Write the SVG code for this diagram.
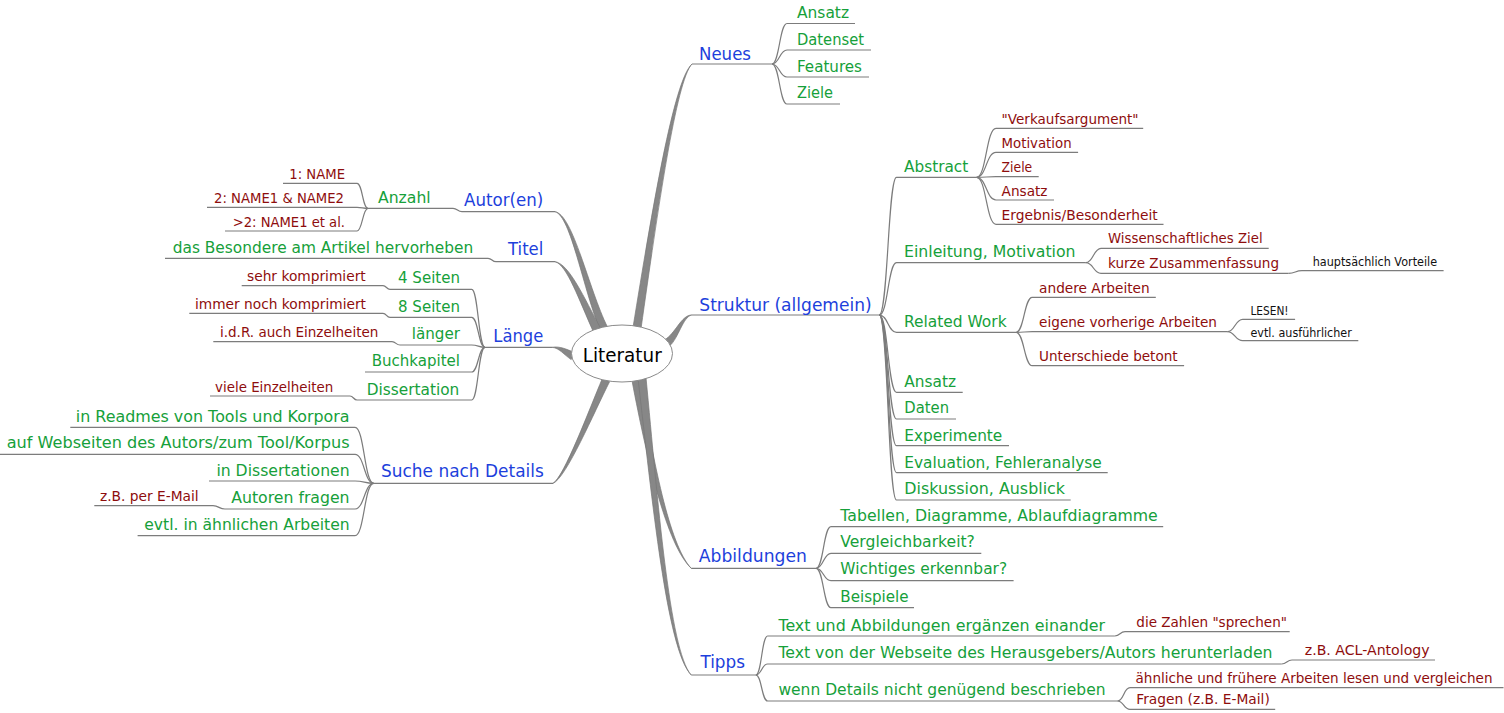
<svg xmlns="http://www.w3.org/2000/svg" width="1504" height="713" viewBox="0 0 1504 713">
<style>
text{font-family:"DejaVu Sans","Liberation Sans",sans-serif;}
.b{fill:#1d3fdc;font-size:17px;}
.g{fill:#16a03a;font-size:15.5px;}
.r{fill:#8e0d0d;font-size:14.8px;}
.k{fill:#111;font-size:12px;}
.c{fill:#000;font-size:19px;}
.ln{fill:none;stroke:#7c7c7c;stroke-width:1.2;}
.rb{fill:#878787;stroke:#777;stroke-width:0.7;stroke-linejoin:round;}
</style>
<rect width="1504" height="713" fill="#fff"/>
<g id="connectors">
<g id="ribbons">
<path class="rb" d="M641,328.6 C657.8,210.4 676.2,80.2 692,64 C673.8,79.8 652.2,209.6 633,327.4 Z"/>
<path class="rb" d="M669.3,346.3 C678.6,338.3 682.7,317 691.7,315 C681.3,315 675.4,333.7 664.7,339.7 Z"/>
<path class="rb" d="M640,379.3 C652.8,459.5 669.2,544.8 691.2,568.3 C666.8,545.2 647.2,460.5 632,380.7 Z"/>
<path class="rb" d="M646,377.6 C657.8,499.7 669.2,649.9 691.2,675 C666.8,650.1 652.2,500.3 638,378.4 Z"/>
<path class="rb" d="M607.6,327.3 C588.5,288.8 573.1,214.5 555,211.7 C570.9,215.5 583.5,291.2 600.4,330.7 Z"/>
<path class="rb" d="M600.6,328.2 C584.5,298.7 569.1,263.5 555,261.7 C566.9,264.5 579.5,301.3 593.4,331.8 Z"/>
<path class="rb" d="M574.8,352.4 C566.3,349.5 560.5,345.9 552,347.3 C559.5,348.1 563.7,354.5 571.2,359.6 Z"/>
<path class="rb" d="M609.6,381.7 C594.5,411.2 566.1,478.5 553,483.3 C563.9,477.5 589.5,408.8 602.4,378.3 Z"/>
</g>
<g id="lines" class="ln">
<path d="M692,64 H772"/>
<path d="M691.7,315 H879.3"/>
<path d="M691.2,568.3 H816.1"/>
<path d="M691.2,675 H755.8"/>
<path d="M555,211.7 H462"/>
<path d="M555,261.7 H496"/>
<path d="M552,347.3 H485"/>
<path d="M553,483.3 H373.7"/>
<path d="M772,64 C779.5,64 779.5,23.5 787,23.5 H855"/>
<path d="M772,64 C779.5,64 779.5,50 787,50 H871"/>
<path d="M772,64 C779.5,64 779.5,77 787,77 H869"/>
<path d="M772,64 C779.5,64 779.5,104 787,104 H840"/>
<path d="M879.3,315 C888,315 888,177.3 896.5,177.3 H976.7"/>
<path d="M879.3,315 C888,315 888,262.7 896.5,262.7 H1085.8"/>
<path d="M879.3,315 C888,315 888,332.3 896.5,332.3 H1016.1"/>
<path d="M879.3,315 C888,315 888,392.3 896.5,392.3 H962.7"/>
<path d="M879.3,315 C888,315 888,419 896.5,419 H956"/>
<path d="M879.3,315 C888,315 888,445.7 896.5,445.7 H1009"/>
<path d="M879.3,315 C888,315 888,472.7 896.5,472.7 H1107.7"/>
<path d="M879.3,315 C888,315 888,500 896.5,500 H1070.7"/>
<path d="M976.7,177.3 C986.3,177.3 986.3,128.3 996,128.3 H1143.2"/>
<path d="M976.7,177.3 C986.3,177.3 986.3,152.3 996,152.3 H1078.1"/>
<path d="M976.7,177.3 C986.3,177.3 986.3,176.7 996,176.7 H1038.7"/>
<path d="M976.7,177.3 C986.3,177.3 986.3,200 996,200 H1054"/>
<path d="M976.7,177.3 C986.3,177.3 986.3,224.3 996,224.3 H1163.5"/>
<path d="M1085.8,262.7 C1093.4,262.7 1093.4,248.3 1101,248.3 H1268.7"/>
<path d="M1085.8,262.7 C1093.4,262.7 1093.4,273.3 1101,273.3 H1288.6"/>
<path d="M1288.6,273.3 C1295.3,273.3 1295.3,270.7 1302,270.7 H1443.6"/>
<path d="M1016.1,332.3 C1024.2,332.3 1024.2,297.3 1032.2,297.3 H1155.8"/>
<path d="M1016.1,332.3 C1024.2,332.3 1024.2,331.7 1032.2,331.7 H1227.4"/>
<path d="M1016.1,332.3 C1024.2,332.3 1024.2,365.7 1032.2,365.7 H1184.1"/>
<path d="M1227.4,331.7 C1235,331.7 1235,319.3 1242.7,319.3 H1295.1"/>
<path d="M1227.4,331.7 C1235,331.7 1235,340.7 1242.7,340.7 H1358.3"/>
<path d="M816.1,568.3 C823.5,568.3 823.5,526.7 831,526.7 H1163.2"/>
<path d="M816.1,568.3 C823.5,568.3 823.5,553.3 831,553.3 H981.3"/>
<path d="M816.1,568.3 C823.5,568.3 823.5,580.7 831,580.7 H1013.6"/>
<path d="M816.1,568.3 C823.5,568.3 823.5,607.7 831,607.7 H914"/>
<path d="M755.8,675 C761.7,675 761.7,636 767.6,636 H1114.8"/>
<path d="M755.8,675 C761.7,675 761.7,664 767.6,664 H1281.6"/>
<path d="M755.8,675 C761.7,675 761.7,701 767.6,701 H1117.5"/>
<path d="M1114.8,636 C1120,636 1120,631.7 1125,631.7 H1289.7"/>
<path d="M1281.6,664 C1286.8,664 1286.8,660 1292,660 H1435"/>
<path d="M1117.5,701 C1123.7,701 1123.7,687.7 1130,687.7 H1503.5"/>
<path d="M1117.5,701 C1123.7,701 1123.7,709.3 1130,709.3 H1275.2"/>
<path d="M462,211.7 C457.5,211.7 457.5,208.3 453,208.3 H368"/>
<path d="M368,208.3 C362.5,208.3 362.5,183.3 357,183.3 H283"/>
<path d="M368,208.3 C362.5,208.3 362.5,207.3 357,207.3 H207"/>
<path d="M368,208.3 C362.5,208.3 362.5,231 357,231 H225"/>
<path d="M496,261.7 C492,261.7 492,258.3 488,258.3 H165"/>
<path d="M485,347.3 C478.3,347.3 478.3,289.3 471.7,289.3 H390"/>
<path d="M485,347.3 C478.3,347.3 478.3,317.3 471.7,317.3 H390"/>
<path d="M485,347.3 C478.3,347.3 478.3,345 471.7,345 H400"/>
<path d="M485,347.3 C478.3,347.3 478.3,372 471.7,372 H365"/>
<path d="M485,347.3 C478.3,347.3 478.3,400 471.7,400 H357"/>
<path d="M390,289.3 C386.5,289.3 386.5,285.7 383,285.7 H241.7"/>
<path d="M390,317.3 C386.5,317.3 386.5,313.3 383,313.3 H189.3"/>
<path d="M400,345 C396,345 396,341.7 392,341.7 H213.3"/>
<path d="M357,400 C353.5,400 353.5,396 350,396 H210"/>
<path d="M373.7,483.3 C364.3,483.3 364.3,427.3 355,427.3 H70.3"/>
<path d="M373.7,483.3 C364.3,483.3 364.3,454.3 355,454.3 H0"/>
<path d="M373.7,483.3 C364.3,483.3 364.3,481 355,481 H209"/>
<path d="M373.7,483.3 C364.3,483.3 364.3,509 355,509 H225"/>
<path d="M373.7,483.3 C364.3,483.3 364.3,535.7 355,535.7 H137.6"/>
<path d="M225,509 C219,509 219,505.7 213,505.7 H94.3"/>
</g>
</g>
<g id="n-literatur">
<ellipse cx="622" cy="353.5" rx="50.5" ry="28.5" fill="#fff" stroke="#8a8a8a" stroke-width="1"/>
<text class="c" x="582.7" y="361.7" textLength="79" lengthAdjust="spacingAndGlyphs">Literatur</text>
</g>
<g id="n-neues"><text class="b" x="699" y="59.5" textLength="52" lengthAdjust="spacingAndGlyphs">Neues</text></g>
<g id="n-neues-ansatz"><text class="g" x="797" y="17.5" textLength="52" lengthAdjust="spacingAndGlyphs">Ansatz</text></g>
<g id="n-datenset"><text class="g" x="797" y="44.5" textLength="67" lengthAdjust="spacingAndGlyphs">Datenset</text></g>
<g id="n-features"><text class="g" x="797" y="71.5" textLength="65" lengthAdjust="spacingAndGlyphs">Features</text></g>
<g id="n-neues-ziele"><text class="g" x="797" y="98" textLength="36" lengthAdjust="spacingAndGlyphs">Ziele</text></g>
<g id="n-struktur"><text class="b" x="699.3" y="310.7" textLength="172.4" lengthAdjust="spacingAndGlyphs">Struktur (allgemein)</text></g>
<g id="n-abstract"><text class="g" x="904" y="171.7" textLength="64.3" lengthAdjust="spacingAndGlyphs">Abstract</text></g>
<g id="n-verkauf"><text class="r" x="1001.6" y="124" textLength="137" lengthAdjust="spacingAndGlyphs">"Verkaufsargument"</text></g>
<g id="n-abs-motivation"><text class="r" x="1001.6" y="148.3" textLength="70" lengthAdjust="spacingAndGlyphs">Motivation</text></g>
<g id="n-abs-ziele"><text class="r" x="1001.6" y="171.7" textLength="30.6" lengthAdjust="spacingAndGlyphs">Ziele</text></g>
<g id="n-abs-ansatz"><text class="r" x="1001.6" y="195.7" textLength="45.9" lengthAdjust="spacingAndGlyphs">Ansatz</text></g>
<g id="n-ergebnis"><text class="r" x="1001.6" y="220" textLength="156.1" lengthAdjust="spacingAndGlyphs">Ergebnis/Besonderheit</text></g>
<g id="n-einleitung"><text class="g" x="904" y="257" textLength="171.5" lengthAdjust="spacingAndGlyphs">Einleitung, Motivation</text></g>
<g id="n-wiss"><text class="r" x="1108" y="243.3" textLength="154.6" lengthAdjust="spacingAndGlyphs">Wissenschaftliches Ziel</text></g>
<g id="n-kurze"><text class="r" x="1108" y="268.3" textLength="171" lengthAdjust="spacingAndGlyphs">kurze Zusammenfassung</text></g>
<g id="n-vorteile"><text class="k" x="1312.7" y="265.7" textLength="124.4" lengthAdjust="spacingAndGlyphs">hauptsächlich Vorteile</text></g>
<g id="n-related"><text class="g" x="904" y="326.7" textLength="102.6" lengthAdjust="spacingAndGlyphs">Related Work</text></g>
<g id="n-andere"><text class="r" x="1039.1" y="292.7" textLength="110.6" lengthAdjust="spacingAndGlyphs">andere Arbeiten</text></g>
<g id="n-eigene"><text class="r" x="1039.1" y="326.7" textLength="177.9" lengthAdjust="spacingAndGlyphs">eigene vorherige Arbeiten</text></g>
<g id="n-lesen"><text class="k" x="1250.4" y="315" textLength="38.2" lengthAdjust="spacingAndGlyphs">LESEN!</text></g>
<g id="n-ausf"><text class="k" x="1250.4" y="336.7" textLength="101.4" lengthAdjust="spacingAndGlyphs">evtl. ausführlicher</text></g>
<g id="n-untersch"><text class="r" x="1039.1" y="360.7" textLength="138.5" lengthAdjust="spacingAndGlyphs">Unterschiede betont</text></g>
<g id="n-str-ansatz"><text class="g" x="904.3" y="386.7" textLength="51.7" lengthAdjust="spacingAndGlyphs">Ansatz</text></g>
<g id="n-daten"><text class="g" x="904.3" y="413.3" textLength="44.7" lengthAdjust="spacingAndGlyphs">Daten</text></g>
<g id="n-experimente"><text class="g" x="904.3" y="440.7" textLength="98" lengthAdjust="spacingAndGlyphs">Experimente</text></g>
<g id="n-evaluation"><text class="g" x="904.3" y="467.7" textLength="197.4" lengthAdjust="spacingAndGlyphs">Evaluation, Fehleranalyse</text></g>
<g id="n-diskussion"><text class="g" x="904.3" y="494.3" textLength="160.7" lengthAdjust="spacingAndGlyphs">Diskussion, Ausblick</text></g>
<g id="n-abbildungen"><text class="b" x="698.8" y="561.7" textLength="108.1" lengthAdjust="spacingAndGlyphs">Abbildungen</text></g>
<g id="n-tabellen"><text class="g" x="840.3" y="520.7" textLength="317.5" lengthAdjust="spacingAndGlyphs">Tabellen, Diagramme, Ablaufdiagramme</text></g>
<g id="n-vergleich"><text class="g" x="840.3" y="547.3" textLength="134.6" lengthAdjust="spacingAndGlyphs">Vergleichbarkeit?</text></g>
<g id="n-wichtiges"><text class="g" x="840.3" y="574" textLength="166.8" lengthAdjust="spacingAndGlyphs">Wichtiges erkennbar?</text></g>
<g id="n-beispiele"><text class="g" x="840.3" y="601.7" textLength="68.3" lengthAdjust="spacingAndGlyphs">Beispiele</text></g>
<g id="n-tipps"><text class="b" x="700.4" y="668.3" textLength="44.6" lengthAdjust="spacingAndGlyphs">Tipps</text></g>
<g id="n-textund"><text class="g" x="778.4" y="630.7" textLength="326.7" lengthAdjust="spacingAndGlyphs">Text und Abbildungen ergänzen einander</text></g>
<g id="n-zahlen"><text class="r" x="1136.3" y="627.3" textLength="150.7" lengthAdjust="spacingAndGlyphs">die Zahlen "sprechen"</text></g>
<g id="n-textvon"><text class="g" x="778.4" y="658.3" textLength="494.1" lengthAdjust="spacingAndGlyphs">Text von der Webseite des Herausgebers/Autors herunterladen</text></g>
<g id="n-acl"><text class="r" x="1304.8" y="655" textLength="124.8" lengthAdjust="spacingAndGlyphs">z.B. ACL-Antology</text></g>
<g id="n-wenn"><text class="g" x="778.4" y="695" textLength="327.2" lengthAdjust="spacingAndGlyphs">wenn Details nicht genügend beschrieben</text></g>
<g id="n-aehnliche"><text class="r" x="1135.5" y="682.7" textLength="357" lengthAdjust="spacingAndGlyphs" style="font-size:13.4px">ähnliche und frühere Arbeiten lesen und vergleichen</text></g>
<g id="n-fragen"><text class="r" x="1136.3" y="704" textLength="133.5" lengthAdjust="spacingAndGlyphs">Fragen (z.B. E-Mail)</text></g>
<g id="n-autoren"><text class="b" x="464" y="205.5" textLength="79.3" lengthAdjust="spacingAndGlyphs">Autor(en)</text></g>
<g id="n-anzahl"><text class="g" x="378" y="202.7" textLength="52.7" lengthAdjust="spacingAndGlyphs">Anzahl</text></g>
<g id="n-name1"><text class="r" x="289.3" y="179" textLength="55.7" lengthAdjust="spacingAndGlyphs">1: NAME</text></g>
<g id="n-name2"><text class="r" x="214" y="202.7" textLength="130" lengthAdjust="spacingAndGlyphs">2: NAME1 &amp; NAME2</text></g>
<g id="n-name3"><text class="r" x="232.7" y="226.7" textLength="112.3" lengthAdjust="spacingAndGlyphs">&gt;2: NAME1 et al.</text></g>
<g id="n-titel"><text class="b" x="508" y="255" textLength="35.3" lengthAdjust="spacingAndGlyphs">Titel</text></g>
<g id="n-besondere"><text class="g" x="172.7" y="252.7" textLength="300.6" lengthAdjust="spacingAndGlyphs">das Besondere am Artikel hervorheben</text></g>
<g id="n-laenge"><text class="b" x="493.3" y="341.7" textLength="50" lengthAdjust="spacingAndGlyphs">Länge</text></g>
<g id="n-4seiten"><text class="g" x="398" y="283.3" textLength="62" lengthAdjust="spacingAndGlyphs">4 Seiten</text></g>
<g id="n-sehr"><text class="r" x="247" y="280.7" textLength="118.7" lengthAdjust="spacingAndGlyphs">sehr komprimiert</text></g>
<g id="n-8seiten"><text class="g" x="398" y="311.7" textLength="62" lengthAdjust="spacingAndGlyphs">8 Seiten</text></g>
<g id="n-immer"><text class="r" x="195" y="309" textLength="171" lengthAdjust="spacingAndGlyphs">immer noch komprimiert</text></g>
<g id="n-laenger"><text class="g" x="411.7" y="339" textLength="48.3" lengthAdjust="spacingAndGlyphs">länger</text></g>
<g id="n-idr"><text class="r" x="220" y="336.7" textLength="158.3" lengthAdjust="spacingAndGlyphs">i.d.R. auch Einzelheiten</text></g>
<g id="n-buch"><text class="g" x="371.7" y="366" textLength="88.3" lengthAdjust="spacingAndGlyphs">Buchkapitel</text></g>
<g id="n-diss"><text class="g" x="366.7" y="395" textLength="92.6" lengthAdjust="spacingAndGlyphs">Dissertation</text></g>
<g id="n-viele"><text class="r" x="215" y="392.3" textLength="118.3" lengthAdjust="spacingAndGlyphs">viele Einzelheiten</text></g>
<g id="n-suche"><text class="b" x="381" y="476.7" textLength="162.8" lengthAdjust="spacingAndGlyphs">Suche nach Details</text></g>
<g id="n-readmes"><text class="g" x="75.8" y="421.7" textLength="273.8" lengthAdjust="spacingAndGlyphs">in Readmes von Tools und Korpora</text></g>
<g id="n-webseiten"><text class="g" x="6.7" y="448.3" textLength="342.9" lengthAdjust="spacingAndGlyphs">auf Webseiten des Autors/zum Tool/Korpus</text></g>
<g id="n-indiss"><text class="g" x="216.4" y="475.7" textLength="133.2" lengthAdjust="spacingAndGlyphs">in Dissertationen</text></g>
<g id="n-autfragen"><text class="g" x="231.2" y="503.3" textLength="118.4" lengthAdjust="spacingAndGlyphs">Autoren fragen</text></g>
<g id="n-permail"><text class="r" x="99.9" y="501" textLength="98.8" lengthAdjust="spacingAndGlyphs">z.B. per E-Mail</text></g>
<g id="n-evtl"><text class="g" x="144.3" y="530" textLength="205.3" lengthAdjust="spacingAndGlyphs">evtl. in ähnlichen Arbeiten</text></g>
</svg>
